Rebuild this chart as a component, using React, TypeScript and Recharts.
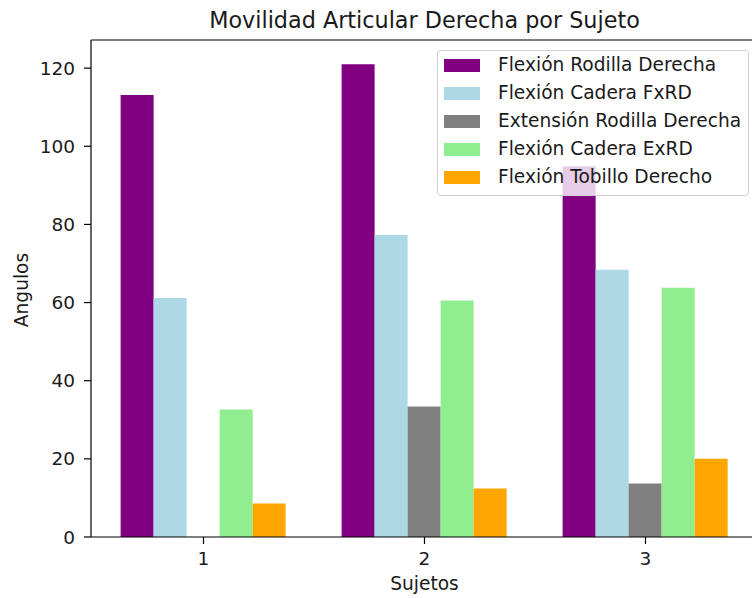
import React from 'react';
import { BarChart, Bar, XAxis, YAxis, ReferenceLine } from 'recharts';

const sujetos = ['1', '2', '3'];
const flexionRodillaDerecha = [113.1, 121.0, 94.9];
const flexionCaderaFxRD = [61.2, 77.3, 68.4];
const extensionRodillaDerecha = [0, 33.4, 13.7];
const flexionCaderaExRD = [32.6, 60.5, 63.8];
const flexionTobilloDerecho = [8.6, 12.4, 20.0];
const yTicks = [0, 20, 40, 60, 80, 100, 120];

const seriesNames = [
  'Flexión Rodilla Derecha',
  'Flexión Cadera FxRD',
  'Extensión Rodilla Derecha',
  'Flexión Cadera ExRD',
  'Flexión Tobillo Derecho',
];
const seriesValues = [
  flexionRodillaDerecha,
  flexionCaderaFxRD,
  extensionRodillaDerecha,
  flexionCaderaExRD,
  flexionTobilloDerecho,
];
const seriesColors = ['#800080', '#add8e6', '#808080', '#90ee90', '#ffa500'];

const data = sujetos.map((s, i) => {
  const row: Record<string, any> = { sujeto: s };
  seriesValues.forEach((vals, k) => {
    row['s' + k] = vals[i];
  });
  return row;
});

const FONT = '"DejaVu Sans", sans-serif';
const TEXT = '#1a1a1a';

export default function App() {
  return (
    <div
      style={{
        position: 'absolute',
        left: 0,
        top: 0,
        width: 752,
        height: 598,
        overflow: 'hidden',
        background: '#fff',
        fontFamily: FONT,
      }}
    >
      <BarChart
        width={770}
        height={598}
        data={data}
        margin={{ top: 40, right: 12, bottom: 0, left: 0 }}
        barCategoryGap="12.5%"
        barGap={0}
      >
        <XAxis
          dataKey="sujeto"
          height={61}
          padding={{ left: 2, right: 2 }}
          tickSize={7}
          tickMargin={8}
          axisLine={{ stroke: '#000', strokeWidth: 1.2 }}
          tickLine={{ stroke: '#000', strokeWidth: 1.2 }}
          tick={{ fill: TEXT, fontSize: 18.5, fontFamily: FONT }}
        />
        <YAxis
          width={91}
          domain={[0, 127.2]}
          ticks={yTicks}
          allowDataOverflow
          tickSize={7}
          tickMargin={9}
          axisLine={{ stroke: '#000', strokeWidth: 1.2 }}
          tickLine={{ stroke: '#000', strokeWidth: 1.2 }}
          tick={{ fill: TEXT, fontSize: 18.5, fontFamily: FONT }}
        />
        <ReferenceLine y={127.2} stroke="#000" strokeWidth={1.2} ifOverflow="visible" />
        {seriesNames.map((name, k) => (
          <Bar
            key={name}
            dataKey={'s' + k}
            name={name}
            fill={seriesColors[k]}
            isAnimationActive={false}
          />
        ))}
      </BarChart>

      <div
        style={{
          position: 'absolute',
          left: 91,
          width: 667,
          top: 8.5,
          textAlign: 'center',
          fontSize: 22.3,
          lineHeight: '22.3px',
          color: TEXT,
          whiteSpace: 'nowrap',
        }}
      >
        Movilidad Articular Derecha por Sujeto
      </div>

      <div
        style={{
          position: 'absolute',
          left: 91,
          width: 667,
          top: 574.5,
          textAlign: 'center',
          fontSize: 18.6,
          lineHeight: '18.6px',
          color: TEXT,
        }}
      >
        Sujetos
      </div>

      <div
        style={{
          position: 'absolute',
          left: 22,
          top: 290,
          transform: 'translate(-50%, -50%) rotate(-90deg)',
          fontSize: 18.6,
          lineHeight: '18.6px',
          color: TEXT,
          whiteSpace: 'nowrap',
        }}
      >
        Angulos
      </div>

      <div
        style={{
          position: 'absolute',
          left: 437,
          top: 50,
          width: 312,
          height: 146,
          boxSizing: 'border-box',
          background: 'rgba(255,255,255,0.8)',
          border: '1px solid #d0d0d0',
          borderRadius: 4,
        }}
      >
        {seriesNames.map((name, k) => (
          <div
            key={name}
            style={{
              position: 'absolute',
              left: 0,
              top: k * 28.1,
              height: 28,
              width: 310,
            }}
          >
            <div
              style={{
                position: 'absolute',
                left: 6,
                top: 7.5,
                width: 36,
                height: 13,
                background: seriesColors[k],
              }}
            />
            <div
              style={{
                position: 'absolute',
                left: 60,
                top: 0,
                fontSize: 18.6,
                lineHeight: '28px',
                color: TEXT,
                whiteSpace: 'nowrap',
              }}
            >
              {name}
            </div>
          </div>
        ))}
      </div>
    </div>
  );
}
